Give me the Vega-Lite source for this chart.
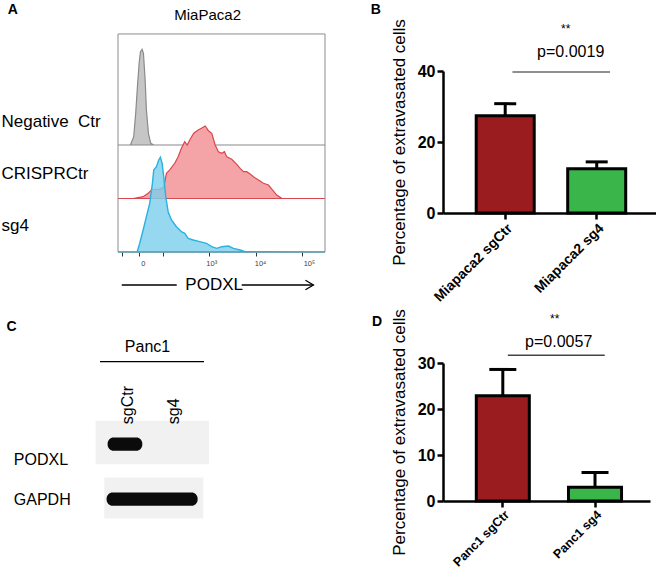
{
  "$schema": "https://vega.github.io/schema/vega-lite/v6.json",
  "padding": {"left": 1, "top": 2, "right": 0, "bottom": 0},
  "config": {"font": "Liberation Sans", "view": {"stroke": null}, "axis": {"grid": false}},
  "spacing": 42,
  "hconcat": [
    {
      "spacing": 26,
      "vconcat": [
        {
          "width": 207,
          "height": 181,
          "data": {"values": [
            {"s":"neg","x":1.08,"y":2,"b":2},{"s":"neg","x":1.335,"y":2,"b":2},{"s":"neg","x":1.402,"y":2.155,"b":2},{"s":"neg","x":1.443,"y":2.598,"b":2},{"s":"neg","x":1.478,"y":3.09,"b":2},{"s":"neg","x":1.513,"y":3.527,"b":2},{"s":"neg","x":1.54,"y":3.744,"b":2},{"s":"neg","x":1.574,"y":3.789,"b":2},{"s":"neg","x":1.601,"y":3.714,"b":2},{"s":"neg","x":1.636,"y":3.215,"b":2},{"s":"neg","x":1.662,"y":2.654,"b":2},{"s":"neg","x":1.703,"y":2.219,"b":2},{"s":"neg","x":1.75,"y":2.032,"b":2},{"s":"neg","x":1.812,"y":2,"b":2},{"s":"neg","x":5.32,"y":2,"b":2},
            {"s":"ctr","x":1.08,"y":1,"b":1},{"s":"ctr","x":1.39,"y":1,"b":1},{"s":"ctr","x":1.595,"y":1.034,"b":1},{"s":"ctr","x":1.697,"y":1.097,"b":1},{"s":"ctr","x":1.765,"y":1.159,"b":1},{"s":"ctr","x":1.832,"y":1.172,"b":1},{"s":"ctr","x":1.935,"y":1.172,"b":1},{"s":"ctr","x":2.018,"y":1.215,"b":1},{"s":"ctr","x":2.072,"y":1.471,"b":1},{"s":"ctr","x":2.14,"y":1.533,"b":1},{"s":"ctr","x":2.242,"y":1.658,"b":1},{"s":"ctr","x":2.312,"y":1.781,"b":1},{"s":"ctr","x":2.379,"y":1.938,"b":1},{"s":"ctr","x":2.447,"y":2.062,"b":1},{"s":"ctr","x":2.496,"y":2.0,"b":1},{"s":"ctr","x":2.549,"y":2.093,"b":1},{"s":"ctr","x":2.631,"y":2.219,"b":1},{"s":"ctr","x":2.721,"y":2.28,"b":1},{"s":"ctr","x":2.789,"y":2.312,"b":1},{"s":"ctr","x":2.865,"y":2.355,"b":1},{"s":"ctr","x":2.932,"y":2.267,"b":1},{"s":"ctr","x":3.0,"y":2.219,"b":1},{"s":"ctr","x":3.07,"y":2.0,"b":1},{"s":"ctr","x":3.137,"y":1.875,"b":1},{"s":"ctr","x":3.205,"y":1.845,"b":1},{"s":"ctr","x":3.26,"y":1.875,"b":1},{"s":"ctr","x":3.307,"y":1.781,"b":1},{"s":"ctr","x":3.41,"y":1.733,"b":1},{"s":"ctr","x":3.512,"y":1.639,"b":1},{"s":"ctr","x":3.582,"y":1.564,"b":1},{"s":"ctr","x":3.649,"y":1.501,"b":1},{"s":"ctr","x":3.717,"y":1.501,"b":1},{"s":"ctr","x":3.787,"y":1.458,"b":1},{"s":"ctr","x":3.854,"y":1.407,"b":1},{"s":"ctr","x":3.957,"y":1.346,"b":1},{"s":"ctr","x":4.059,"y":1.284,"b":1},{"s":"ctr","x":4.162,"y":1.252,"b":1},{"s":"ctr","x":4.243,"y":1.159,"b":1},{"s":"ctr","x":4.331,"y":1.065,"b":1},{"s":"ctr","x":4.434,"y":1.004,"b":1},{"s":"ctr","x":4.571,"y":1,"b":1},{"s":"ctr","x":5.32,"y":1,"b":1},
            {"s":"sg4","x":1.08,"y":0,"b":0},{"s":"sg4","x":1.472,"y":0,"b":0},{"s":"sg4","x":1.525,"y":0.163,"b":0},{"s":"sg4","x":1.595,"y":0.411,"b":0},{"s":"sg4","x":1.662,"y":0.66,"b":0},{"s":"sg4","x":1.73,"y":0.91,"b":0},{"s":"sg4","x":1.785,"y":1.284,"b":0},{"s":"sg4","x":1.812,"y":1.533,"b":0},{"s":"sg4","x":1.867,"y":1.594,"b":0},{"s":"sg4","x":1.914,"y":1.72,"b":0},{"s":"sg4","x":1.949,"y":1.77,"b":0},{"s":"sg4","x":1.984,"y":1.658,"b":0},{"s":"sg4","x":2.017,"y":1.407,"b":0},{"s":"sg4","x":2.058,"y":1.034,"b":0},{"s":"sg4","x":2.107,"y":0.753,"b":0},{"s":"sg4","x":2.175,"y":0.598,"b":0},{"s":"sg4","x":2.277,"y":0.473,"b":0},{"s":"sg4","x":2.379,"y":0.379,"b":0},{"s":"sg4","x":2.447,"y":0.35,"b":0},{"s":"sg4","x":2.517,"y":0.256,"b":0},{"s":"sg4","x":2.619,"y":0.224,"b":0},{"s":"sg4","x":2.754,"y":0.193,"b":0},{"s":"sg4","x":2.891,"y":0.163,"b":0},{"s":"sg4","x":3.0,"y":0.099,"b":0},{"s":"sg4","x":3.102,"y":0.069,"b":0},{"s":"sg4","x":3.205,"y":0.099,"b":0},{"s":"sg4","x":3.342,"y":0.112,"b":0},{"s":"sg4","x":3.444,"y":0.069,"b":0},{"s":"sg4","x":3.582,"y":0.037,"b":0},{"s":"sg4","x":3.684,"y":0.006,"b":0},{"s":"sg4","x":5.32,"y":0,"b":0}
          ]},
          "layer": [
            {
              "transform": [{"filter": "datum.s == 'neg'"}],
              "mark": {"type": "area", "fill": "#c6c6c6", "stroke": "#8a8a8a", "strokeWidth": 1.2},
              "encoding": {
                "x": {"field": "x", "type": "quantitative", "scale": {"domain": [1.08, 5.32], "nice": false, "zero": false},
                  "axis": {"title": null, "domain": false, "labels": false, "values": [1.16,1.23,1.27,1.31,1.36,1.4,1.43,1.47,1.5,1.53,1.57,1.6,1.67,1.74,1.81,1.91,2.0,2.301,2.477,2.602,2.699,2.778,2.845,2.903,2.954,3,3.301,3.477,3.602,3.699,3.778,3.845,3.903,3.954,4,4.301,4.477,4.602,4.699,4.778,4.845,4.903,4.954,5,5.301],
                    "tickSize": 4, "tickColor": "#333", "tickWidth": 1}},
                "y": {"field": "y", "type": "quantitative", "stack": null, "scale": {"domain": [0, 3.383], "nice": false, "zero": false},
                  "axis": {"title": null, "domain": false, "ticks": false, "tickSize": 0, "values": [2.43, 1.46, 0.5],
                    "labelExpr": "datum.value > 2 ? 'Negative\u00a0\u00a0Ctr' : datum.value > 1 ? 'CRISPRCtr' : 'sg4'",
                    "labelAlign": "left", "labelBaseline": "middle", "labelPadding": 117, "labelFontSize": 17, "labelColor": "black"}},
                "y2": {"field": "b"}
              }
            },
            {
              "transform": [{"filter": "datum.s == 'ctr'"}],
              "mark": {"type": "area", "fill": "#f4a3a6", "stroke": "#d9474e", "strokeWidth": 1.2},
              "encoding": {
                "x": {"field": "x", "type": "quantitative"},
                "y": {"field": "y", "type": "quantitative", "stack": null},
                "y2": {"field": "b"}
              }
            },
            {
              "transform": [{"filter": "datum.s == 'sg4'"}],
              "mark": {"type": "area", "fill": "#7fd0ec", "fillOpacity": 0.82, "stroke": "#27b2df", "strokeWidth": 1.4},
              "encoding": {
                "x": {"field": "x", "type": "quantitative"},
                "y": {"field": "y", "type": "quantitative", "stack": null},
                "y2": {"field": "b"}
              }
            },
            {
              "data": {"values": [{}]},
              "mark": {"type": "rect", "filled": false, "stroke": "#8c8c8c", "strokeWidth": 1},
              "encoding": {"x": {"datum": 1.08, "type": "quantitative"}, "x2": {"datum": 5.32}, "y": {"datum": 0, "type": "quantitative"}, "y2": {"datum": 4.075}}
            },
            {
              "data": {"values": [
                {"tick": 1.6, "label": "0"},
                {"tick": 3, "label": "10³"},
                {"tick": 4, "label": "10⁴"},
                {"tick": 5, "label": "10⁵"}
              ]},
              "mark": {"type": "text", "fontSize": 7.5, "color": "#444", "baseline": "middle"},
              "encoding": {"x": {"field": "tick", "type": "quantitative"}, "y": {"datum": -0.224, "type": "quantitative"}, "text": {"field": "label"}}
            },
            {
              "data": {"values": [{}]},
              "mark": {"type": "text", "fontSize": 15, "color": "black", "baseline": "middle"},
              "encoding": {"x": {"datum": 2.916, "type": "quantitative"}, "y": {"datum": 4.43, "type": "quantitative"}, "text": {"value": "MiaPaca2"}}
            },
            {
              "data": {"values": [{}]},
              "mark": {"type": "text", "fontSize": 14, "fontWeight": "bold", "color": "black", "baseline": "middle", "align": "left"},
              "encoding": {"x": {"datum": -1.179, "type": "quantitative"}, "y": {"datum": 4.523, "type": "quantitative"}, "text": {"value": "A"}}
            },
            {
              "data": {"values": [{}]},
              "mark": {"type": "text", "fontSize": 17, "color": "black", "baseline": "middle"},
              "encoding": {"x": {"datum": 3.05, "type": "quantitative"}, "y": {"datum": -0.617, "type": "quantitative"}, "text": {"value": "PODXL"}}
            },
            {
              "data": {"values": [{}]},
              "mark": {"type": "rule", "color": "black", "strokeWidth": 1.3},
              "encoding": {"x": {"datum": 1.157, "type": "quantitative"}, "x2": {"datum": 2.283}, "y": {"datum": -0.617, "type": "quantitative"}}
            },
            {
              "data": {"values": [{}]},
              "mark": {"type": "rule", "color": "black", "strokeWidth": 1.3},
              "encoding": {"x": {"datum": 3.614, "type": "quantitative"}, "x2": {"datum": 5.083}, "y": {"datum": -0.617, "type": "quantitative"}}
            },
            {
              "data": {"values": [{}]},
              "mark": {"type": "point", "shape": "M-1,-0.6L0,0L-1,0.6", "size": 256, "filled": false, "stroke": "black", "strokeWidth": 1.3, "opacity": 1},
              "encoding": {"x": {"datum": 5.083, "type": "quantitative"}, "y": {"datum": -0.617, "type": "quantitative"}}
            }
          ]
        },
        {
          "width": 91,
          "height": 190,
          "data": {"values": [
            {"item": "PODXL membrane", "kind": "membrane", "x1": 0.377, "x2": 2.715, "y1": 2.396, "y2": 1.621},
            {"item": "GAPDH membrane", "kind": "membrane", "x1": 0.557, "x2": 2.598, "y1": 1.384, "y2": 0.652},
            {"item": "PODXL sgCtr band", "kind": "band", "x1": 0.625, "x2": 1.34, "y1": 2.098, "y2": 1.861},
            {"item": "GAPDH band", "kind": "band", "x1": 0.604, "x2": 2.48, "y1": 1.116, "y2": 0.879}
          ]},
          "layer": [
            {
              "transform": [{"filter": "datum.kind == 'membrane'"}],
              "mark": {"type": "rect", "fill": "#f1f1f1"},
              "encoding": {
                "x": {"field": "x1", "type": "quantitative", "scale": {"domain": [0.839, 2.715], "nice": false, "zero": false}, "axis": null},
                "x2": {"field": "x2"},
                "y": {"field": "y1", "type": "quantitative", "scale": {"domain": [0.5, 3.893], "nice": false, "zero": false},
                  "axis": {"title": null, "domain": false, "ticks": false, "tickSize": 0, "values": [1.711, 0.996],
                    "labelExpr": "datum.value > 1.5 ? 'PODXL' : 'GAPDH'", "labelAlign": "left", "labelBaseline": "middle",
                    "labelPadding": 104.7, "labelFontSize": 16, "labelColor": "black"}},
                "y2": {"field": "y2"}
              }
            },
            {
              "transform": [{"filter": "datum.kind == 'band'"}],
              "mark": {"type": "rect", "fill": "#0b0b0b", "cornerRadius": 6},
              "encoding": {
                "x": {"field": "x1", "type": "quantitative"},
                "x2": {"field": "x2"},
                "y": {"field": "y1", "type": "quantitative"},
                "y2": {"field": "y2"}
              }
            },
            {
              "data": {"values": [{}]},
              "mark": {"type": "rule", "color": "black", "strokeWidth": 1.2},
              "encoding": {"x": {"datum": 0.468, "type": "quantitative"}, "x2": {"datum": 2.612}, "y": {"datum": 3.455, "type": "quantitative"}}
            },
            {
              "data": {"values": [{}]},
              "mark": {"type": "text", "fontSize": 16, "color": "black", "baseline": "middle"},
              "encoding": {"x": {"datum": 1.447, "type": "quantitative"}, "y": {"datum": 3.718, "type": "quantitative"}, "text": {"value": "Panc1"}}
            },
            {
              "data": {"values": [{}]},
              "mark": {"type": "text", "fontSize": 16, "color": "black", "baseline": "middle", "align": "left", "angle": 270},
              "encoding": {"x": {"datum": 1.035, "type": "quantitative"}, "y": {"datum": 2.336, "type": "quantitative"}, "text": {"value": "sgCtr"}}
            },
            {
              "data": {"values": [{}]},
              "mark": {"type": "text", "fontSize": 16, "color": "black", "baseline": "middle", "align": "left", "angle": 270},
              "encoding": {"x": {"datum": 1.996, "type": "quantitative"}, "y": {"datum": 2.336, "type": "quantitative"}, "text": {"value": "sg4"}}
            },
            {
              "data": {"values": [{}]},
              "mark": {"type": "text", "fontSize": 14, "fontWeight": "bold", "color": "black", "baseline": "middle", "align": "left"},
              "encoding": {"x": {"datum": -1.458, "type": "quantitative"}, "y": {"datum": 4.063, "type": "quantitative"}, "text": {"value": "C"}}
            }
          ]
        }
      ]
    },
    {
      "spacing": 3,
      "vconcat": [
        {
          "width": 213,
          "height": 142,
          "data": {"values": [
            {"group": "Miapaca2 sgCtr", "pct": 27.4, "err": 30.8},
            {"group": "Miapaca2 sg4", "pct": 12.5, "err": 14.4}
          ]},
          "layer": [
            {
              "mark": {"type": "bar", "stroke": "black", "strokeWidth": 3},
              "encoding": {
                "x": {"field": "group", "type": "nominal", "sort": null,
                  "scale": {"paddingInner": 0.366, "paddingOuter": 0.347, "align": 0.523},
                  "axis": {"title": null, "labelAngle": -45, "labelFontSize": 14, "labelFontWeight": "bold", "labelColor": "black",
                    "tickColor": "black", "tickWidth": 2.5, "tickSize": 6, "domainColor": "black", "domainWidth": 2.5, "labelPadding": 2}},
                "y": {"field": "pct", "type": "quantitative", "scale": {"domain": [0, 40], "nice": false},
                  "axis": {"values": [0, 10, 20, 30, 40], "labelFontSize": 16, "labelFontWeight": "bold", "labelColor": "black",
                    "tickColor": "black", "tickWidth": 2.5, "tickSize": 6, "domainColor": "black", "domainWidth": 2.5, "labelPadding": 2,
                    "title": "Percentage of extravasated cells", "titleFontSize": 17, "titleFontWeight": "normal", "titleColor": "black", "titlePadding": 9}},
                "color": {"field": "group", "type": "nominal", "scale": {"domain": ["Miapaca2 sgCtr", "Miapaca2 sg4"], "range": ["#9b1c1f", "#39b54a"]}, "legend": null}
              }
            },
            {
              "mark": {"type": "rule", "color": "black", "strokeWidth": 3},
              "encoding": {"x": {"field": "group", "type": "nominal", "sort": null}, "y": {"field": "pct", "type": "quantitative"}, "y2": {"field": "err"}}
            },
            {
              "mark": {"type": "tick", "color": "black", "thickness": 3, "size": 22, "opacity": 1},
              "encoding": {"x": {"field": "group", "type": "nominal", "sort": null}, "y": {"field": "err", "type": "quantitative"}}
            },
            {
              "data": {"values": [{}]},
              "mark": {"type": "rule", "color": "#6b6b6b", "strokeWidth": 1.5, "xOffset": 7.2, "x2Offset": 13.3},
              "encoding": {"x": {"datum": "Miapaca2 sgCtr", "type": "nominal"}, "x2": {"datum": "Miapaca2 sg4"}, "y": {"datum": 39.7, "type": "quantitative"}}
            },
            {
              "data": {"values": [{}]},
              "mark": {"type": "text", "fontSize": 16, "color": "black", "baseline": "middle", "dx": -26},
              "encoding": {"x": {"datum": "Miapaca2 sg4", "type": "nominal"}, "y": {"datum": 45.4, "type": "quantitative"}, "text": {"value": "p=0.0019"}}
            },
            {
              "data": {"values": [{}]},
              "mark": {"type": "text", "fontSize": 12, "color": "black", "baseline": "middle", "dx": -31},
              "encoding": {"x": {"datum": "Miapaca2 sg4", "type": "nominal"}, "y": {"datum": 51.8, "type": "quantitative"}, "text": {"value": "**"}}
            },
            {
              "data": {"values": [{}]},
              "mark": {"type": "text", "fontSize": 14, "fontWeight": "bold", "color": "black", "baseline": "middle", "align": "left", "dx": -134.5},
              "encoding": {"x": {"datum": "Miapaca2 sgCtr", "type": "nominal"}, "y": {"datum": 57.2, "type": "quantitative"}, "text": {"value": "B"}}
            }
          ]
        },
        {
          "width": 207,
          "height": 138,
          "data": {"values": [
            {"group": "Panc1 sgCtr", "pct": 22.9, "err": 28.6},
            {"group": "Panc1 sg4", "pct": 3.0, "err": 6.2}
          ]},
          "layer": [
            {
              "mark": {"type": "bar", "stroke": "black", "strokeWidth": 3},
              "encoding": {
                "x": {"field": "group", "type": "nominal", "sort": null,
                  "scale": {"paddingInner": 0.425, "paddingOuter": 0.335, "align": 0.539},
                  "axis": {"title": null, "labelAngle": -45, "labelFontSize": 12.5, "labelFontWeight": "bold", "labelColor": "black",
                    "tickColor": "black", "tickWidth": 2.5, "tickSize": 6, "domainColor": "black", "domainWidth": 2.5, "labelPadding": 1}},
                "y": {"field": "pct", "type": "quantitative", "scale": {"domain": [0, 30], "nice": false},
                  "axis": {"values": [0, 10, 20, 30], "labelFontSize": 16, "labelFontWeight": "bold", "labelColor": "black",
                    "tickColor": "black", "tickWidth": 2.5, "tickSize": 6, "domainColor": "black", "domainWidth": 2.5, "labelPadding": 2,
                    "title": "Percentage of extravasated cells", "titleFontSize": 17, "titleFontWeight": "normal", "titleColor": "black", "titlePadding": 9}},
                "color": {"field": "group", "type": "nominal", "scale": {"domain": ["Panc1 sgCtr", "Panc1 sg4"], "range": ["#9b1c1f", "#39b54a"]}, "legend": null}
              }
            },
            {
              "mark": {"type": "rule", "color": "black", "strokeWidth": 3},
              "encoding": {"x": {"field": "group", "type": "nominal", "sort": null}, "y": {"field": "pct", "type": "quantitative"}, "y2": {"field": "err"}}
            },
            {
              "mark": {"type": "tick", "color": "black", "thickness": 3, "size": 27, "opacity": 1},
              "encoding": {"x": {"field": "group", "type": "nominal", "sort": null}, "y": {"field": "err", "type": "quantitative"}}
            },
            {
              "data": {"values": [{}]},
              "mark": {"type": "rule", "color": "#444444", "strokeWidth": 1.5, "xOffset": 5, "x2Offset": 9.7},
              "encoding": {"x": {"datum": "Panc1 sgCtr", "type": "nominal"}, "x2": {"datum": "Panc1 sg4"}, "y": {"datum": 31.7, "type": "quantitative"}}
            },
            {
              "data": {"values": [{}]},
              "mark": {"type": "text", "fontSize": 16, "color": "black", "baseline": "middle", "dx": -36.3},
              "encoding": {"x": {"datum": "Panc1 sg4", "type": "nominal"}, "y": {"datum": 34.5, "type": "quantitative"}, "text": {"value": "p=0.0057"}}
            },
            {
              "data": {"values": [{}]},
              "mark": {"type": "text", "fontSize": 12, "color": "black", "baseline": "middle", "dx": -40.3},
              "encoding": {"x": {"datum": "Panc1 sg4", "type": "nominal"}, "y": {"datum": 39.5, "type": "quantitative"}, "text": {"value": "**"}}
            },
            {
              "data": {"values": [{}]},
              "mark": {"type": "text", "fontSize": 14, "fontWeight": "bold", "color": "black", "baseline": "middle", "align": "left", "dx": -130.8},
              "encoding": {"x": {"datum": "Panc1 sgCtr", "type": "nominal"}, "y": {"datum": 38.9, "type": "quantitative"}, "text": {"value": "D"}}
            }
          ]
        }
      ]
    }
  ]
}
